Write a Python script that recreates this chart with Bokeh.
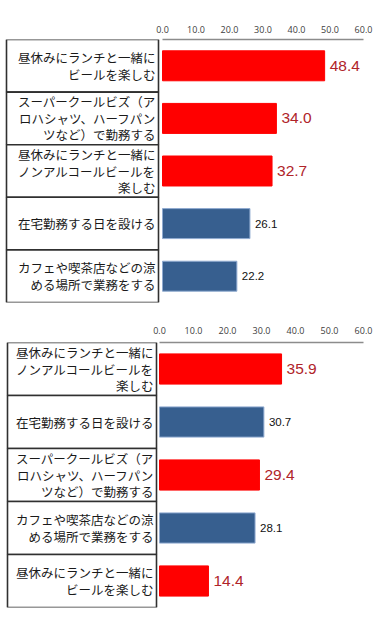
from bokeh.plotting import figure
from bokeh.layouts import column
from bokeh.models import Range1d, LinearAxis, FixedTicker, CustomJSTickFormatter, ColumnDataSource
from bokeh.core.properties import value
from bokeh.embed import file_html
from bokeh.resources import INLINE

# ---- data ----
top_labels = [
    "昼休みにランチと一緒に\nビールを楽しむ",
    "スーパークールビズ（ア\nロハシャツ、ハーフパン\nツなど）で勤務する",
    "昼休みにランチと一緒に\nノンアルコールビールを\n楽しむ",
    "在宅勤務する日を設ける",
    "カフェや喫茶店などの涼\nめる場所で業務をする",
]
top_values = [48.4, 34.0, 32.7, 26.1, 22.2]
top_highlight = [True, True, True, False, False]

bottom_labels = [
    "昼休みにランチと一緒に\nノンアルコールビールを\n楽しむ",
    "在宅勤務する日を設ける",
    "スーパークールビズ（ア\nロハシャツ、ハーフパン\nツなど）で勤務する",
    "カフェや喫茶店などの涼\nめる場所で業務をする",
    "昼休みにランチと一緒に\nビールを楽しむ",
]
bottom_values = [35.9, 30.7, 29.4, 28.1, 14.4]
bottom_highlight = [True, False, True, False, True]

tick_values = [0, 10, 20, 30, 40, 50, 60]

RED = "#FF0000"
BLUE = "#375F8F"
RED_TXT = "#B0242A"
JP = "Noto Sans CJK JP"
W = 387


def make_chart(labels, values, highlight, zero_px, px_per_unit, frame_h, top_b, bot_b,
               tbl_left_px, tbl_right_px, standoff):
    n = len(labels)
    row_px = frame_h / n
    xmin = (0 - zero_px) / px_per_unit
    xmax = (W - zero_px) / px_per_unit
    p = figure(width=W, height=top_b + frame_h + bot_b, output_backend="svg",
               toolbar_location=None, x_axis_location=None, y_axis_location=None,
               min_border_left=0, min_border_right=0, min_border_top=top_b,
               min_border_bottom=bot_b)
    p.x_range = Range1d(xmin, xmax)
    p.y_range = Range1d(n, 0)
    p.grid.visible = False
    p.outline_line_color = None
    p.background_fill_color = "white"
    p.border_fill_color = "white"

    ax = LinearAxis(bounds=(0, 60), ticker=FixedTicker(ticks=tick_values),
                    formatter=CustomJSTickFormatter(code="return tick.toFixed(1);"))
    ax.axis_line_color = "#8C8C8C"
    ax.axis_line_width = 1.5
    ax.major_tick_line_color = None
    ax.minor_tick_line_color = None
    ax.major_tick_out = 0
    ax.major_tick_in = 0
    ax.major_label_standoff = standoff
    ax.major_label_text_font_size = "9px"
    ax.major_label_text_color = "#404040"
    ax.major_label_text_font = "Open Sans"
    p.add_layout(ax, "above")

    ys = [i + 0.5 for i in range(n)]
    tl = (tbl_left_px - zero_px) / px_per_unit
    tr = (tbl_right_px - zero_px) / px_per_unit

    # label table
    p.quad(left=[tl] * n, right=[tr] * n, top=list(range(n)),
           bottom=[i + 1 for i in range(n)],
           fill_color="white", line_color="#303030", line_width=1.6)

    # label lines (split so spacing is controlled)
    lh = 16.5 / row_px
    lx, ly, lt = [], [], []
    for i, lab in enumerate(labels):
        parts = lab.split("\n")
        m = len(parts)
        for k, s in enumerate(parts):
            lx.append(tr - 3.0 / px_per_unit)
            ly.append(ys[i] + (k - (m - 1) / 2) * lh)
            lt.append(s)
    p.text(x=lx, y=ly, text=lt, text_align="right", text_baseline="middle",
           text_font=value(JP), text_font_size="12.5px", text_color="#1A1A1A")

    src = ColumnDataSource(dict(
        y=ys, v=values,
        fill=[RED if h else BLUE for h in highlight],
        line=[RED if h else "#8FAAD0" for h in highlight],
    ))
    p.hbar(y="y", left=0, right="v", height=0.57, source=src, fill_color="fill",
           line_color="line", line_width=1)

    off = 5 / px_per_unit
    red_idx = [i for i, h in enumerate(highlight) if h]
    blue_idx = [i for i, h in enumerate(highlight) if not h]
    p.text(x=[values[i] + off for i in red_idx], y=[ys[i] for i in red_idx],
           text=[f"{values[i]:.1f}" for i in red_idx], text_baseline="middle",
           text_font=value("Liberation Sans"), text_font_size="15.5px", text_color=RED_TXT)
    p.text(x=[values[i] + off for i in blue_idx], y=[ys[i] for i in blue_idx],
           text=[f"{values[i]:.1f}" for i in blue_idx], text_baseline="middle",
           text_font=value("Liberation Sans"), text_font_size="11.5px", text_color="#111111")
    return p


p1 = make_chart(top_labels, top_values, top_highlight, zero_px=162, px_per_unit=3.35,
                frame_h=263, top_b=39, bot_b=10, tbl_left_px=6, tbl_right_px=158, standoff=7)
p2 = make_chart(bottom_labels, bottom_values, bottom_highlight, zero_px=159, px_per_unit=3.4,
                frame_h=265, top_b=30, bot_b=5, tbl_left_px=7, tbl_right_px=156, standoff=9)

layout = column(p1, p2, spacing=0)
open("out.html", "w").write(file_html(layout, INLINE))
